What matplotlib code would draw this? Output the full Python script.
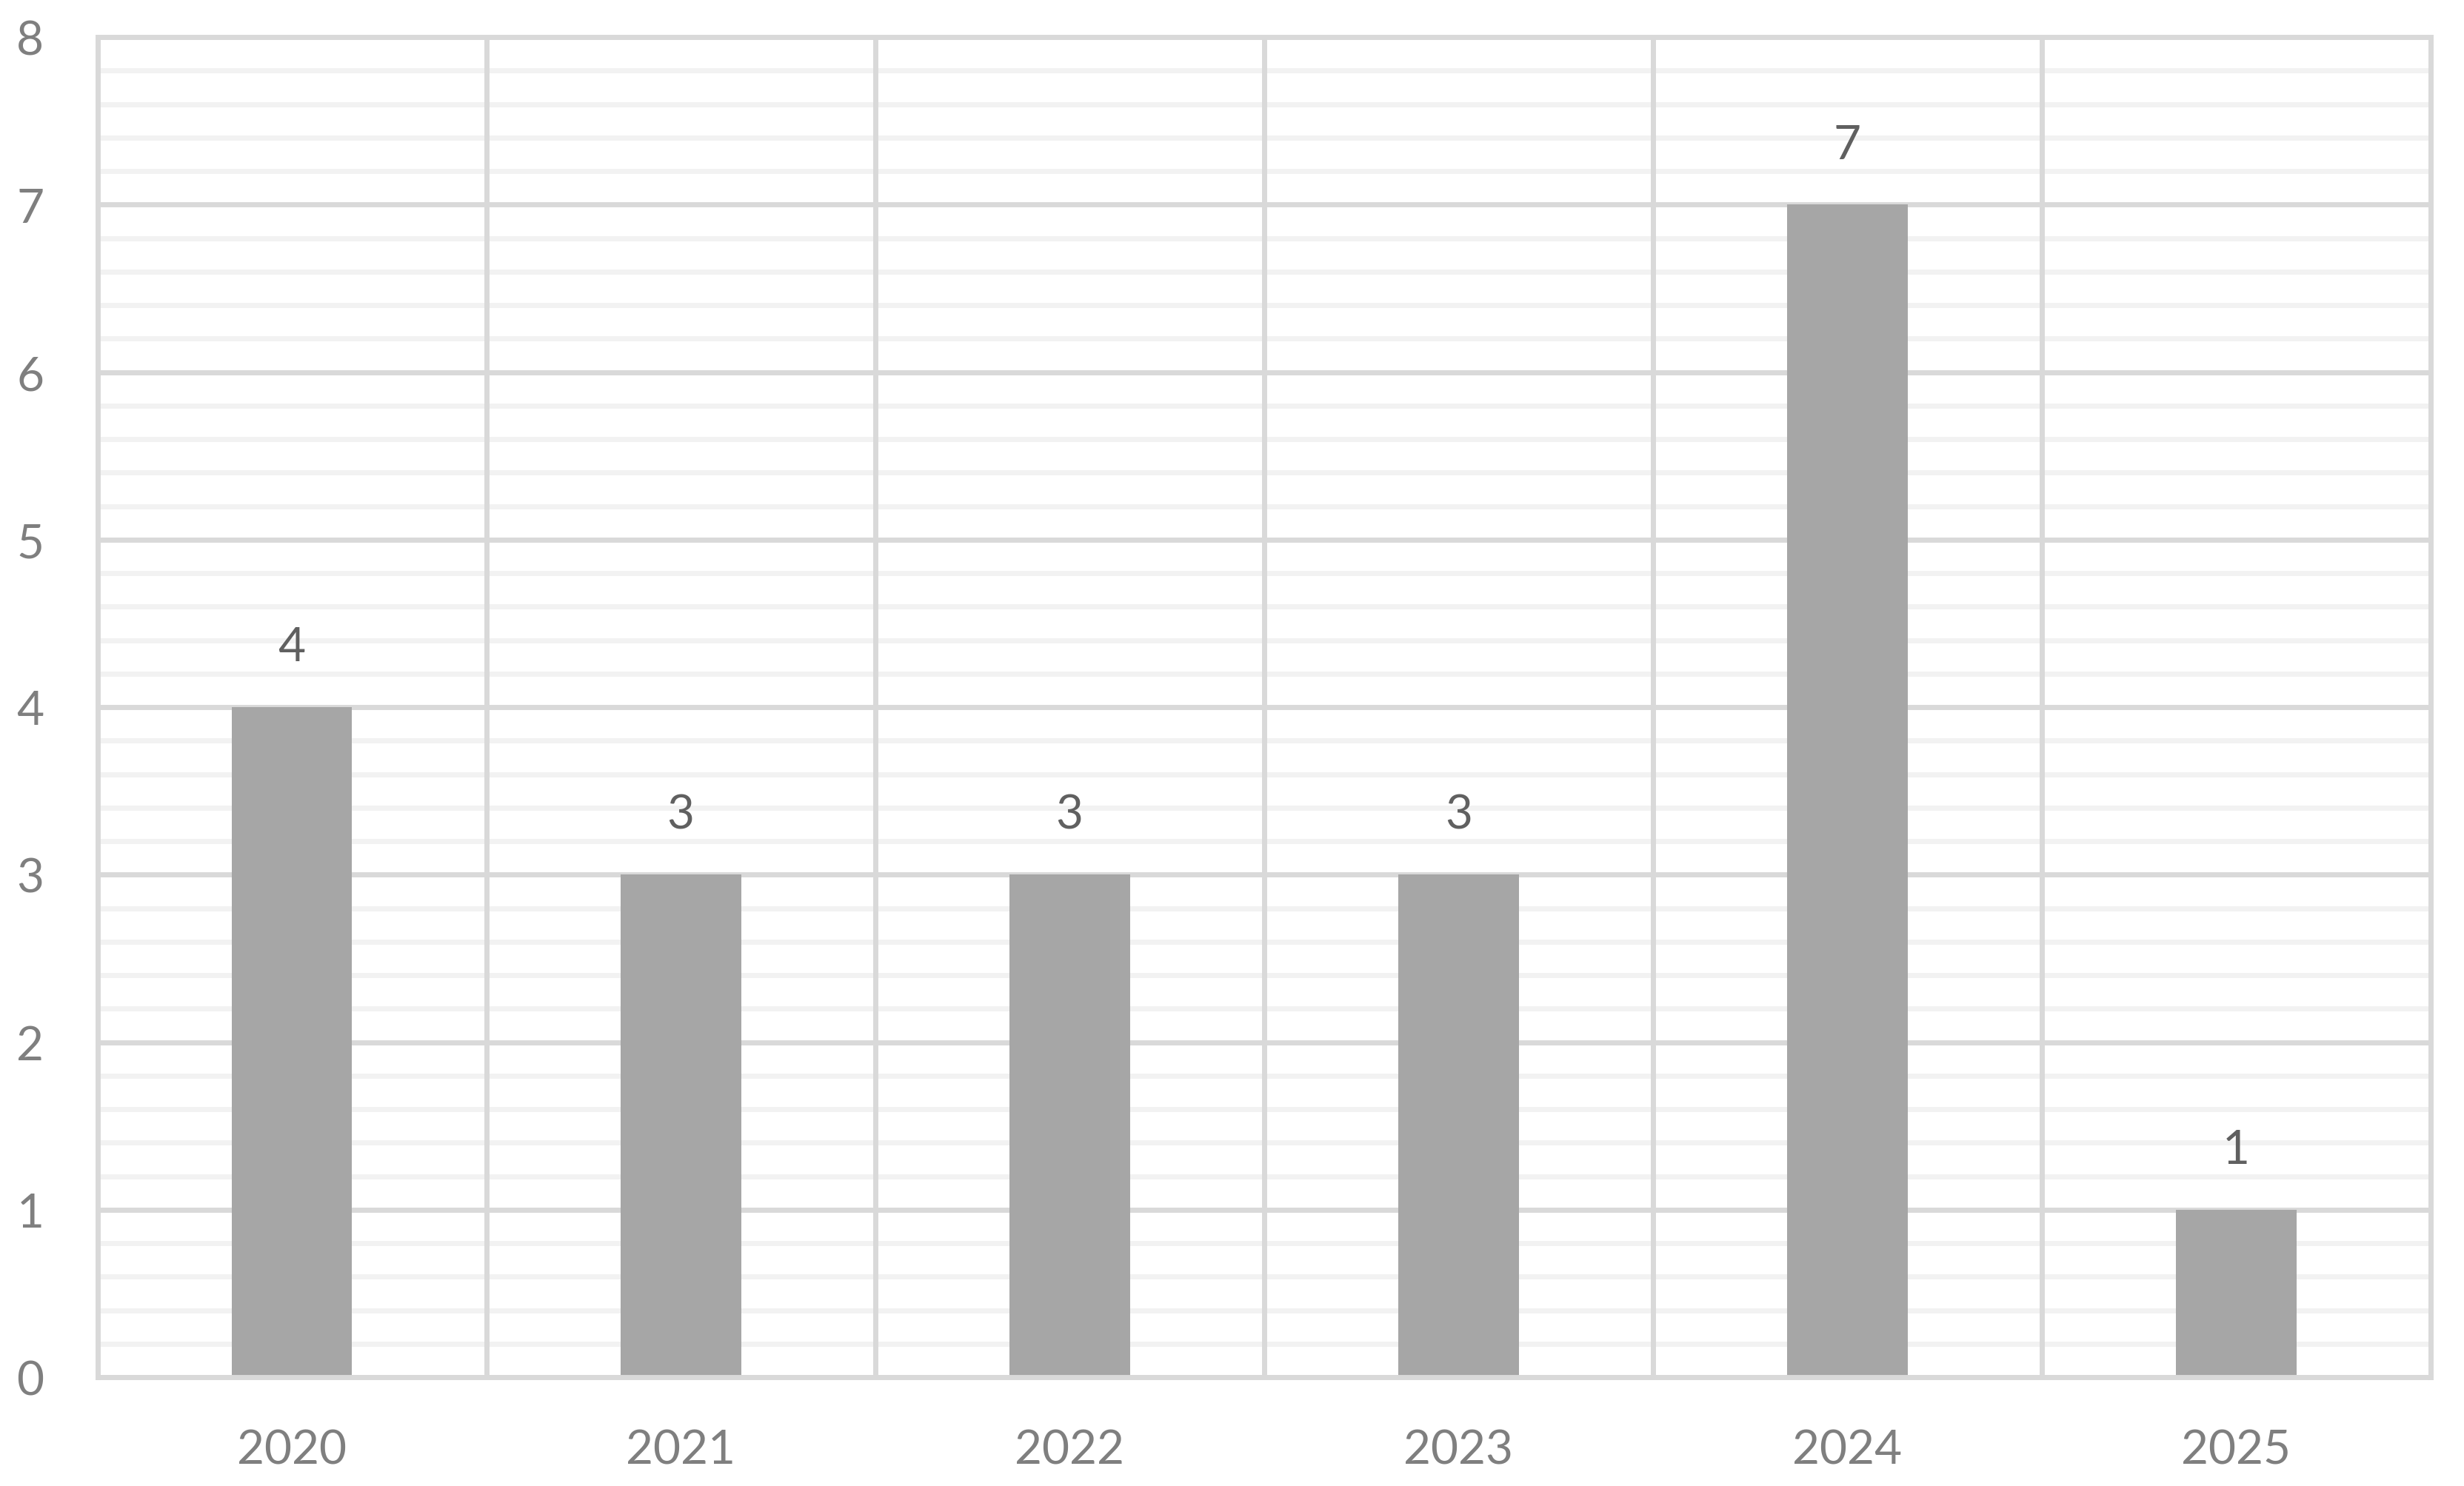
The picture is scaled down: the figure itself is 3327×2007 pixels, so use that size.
import numpy as np
import matplotlib
matplotlib.use("Agg")
import matplotlib.pyplot as plt
from matplotlib.ticker import MultipleLocator, FixedLocator

years = ["2020", "2021", "2022", "2023", "2024", "2025"]
counts = [4, 3, 3, 3, 7, 1]
y_ticks = [0, 1, 2, 3, 4, 5, 6, 7, 8]

plt.rcParams['font.family'] = ['Lato', 'DejaVu Sans']

W, H, DPI = 3327, 2008, 100
fig = plt.figure(figsize=(W / DPI, H / DPI), dpi=DPI)
left, right, top, bottom = 131.5, 3282, 51, 1861
ax = fig.add_axes([left / W, (H - bottom) / H, (right - left) / W, (bottom - top) / H])

x = np.arange(len(years))
bars = ax.bar(x, counts, width=0.31, color='#A6A6A6', zorder=2)

ax.set_xlim(-0.5, len(years) - 0.5)
ax.set_ylim(0, 8)
ax.set_yticks(y_ticks)
ax.set_yticklabels([str(t) for t in y_ticks])
ax.yaxis.set_minor_locator(MultipleLocator(0.2))
ax.set_xticks(x)
ax.set_xticklabels(years)
ax.xaxis.set_minor_locator(FixedLocator(np.arange(-0.5, len(years), 1.0)))

ax.set_axisbelow(True)
ax.yaxis.grid(True, which='minor', color='#F2F2F2', lw=5)
ax.yaxis.grid(True, which='major', color='#D9D9D9', lw=5)
ax.xaxis.grid(True, which='minor', color='#D9D9D9', lw=5)
ax.xaxis.grid(False, which='major')
ax.xaxis.set_zorder(0.6)

ax.tick_params(which='both', length=0)
ax.tick_params(axis='y', pad=52, labelsize=46, labelcolor='#7F7F7F')
ax.tick_params(axis='x', pad=50, labelsize=46, labelcolor='#7F7F7F')
for lab in ax.get_yticklabels():
    lab.set_horizontalalignment('right')

for s in ax.spines.values():
    s.set_color('#D9D9D9')
    s.set_linewidth(5)

for xi, v in zip(x, counts):
    ax.annotate(str(v), (xi, v), xytext=(0, 58), textcoords='offset points',
                ha='center', va='center', fontsize=46, color='#606060')

fig.savefig('out.png', dpi=DPI, facecolor='white')
